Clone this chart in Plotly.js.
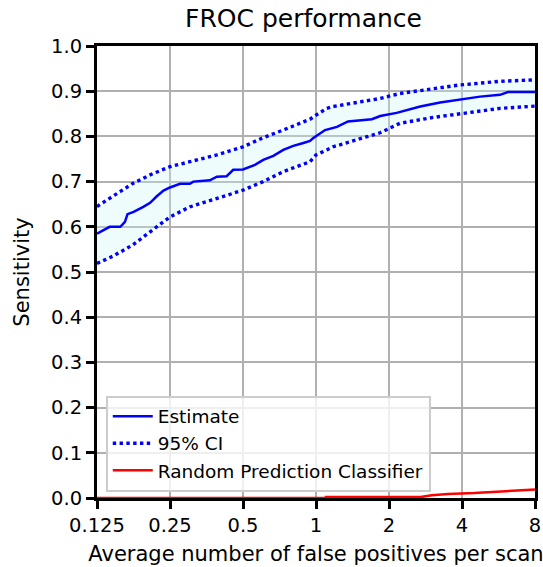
<!DOCTYPE html>
<html><head><meta charset="utf-8">
<script src="https://cdn.plot.ly/plotly-3.0.1.min.js"></script>
<style>body{margin:0;padding:0;background:#fff}#chart{width:543px;height:567px}</style>
</head><body><div id="chart"></div>
<script>
const estX = [0.125,0.133,0.141,0.156,0.163,0.167,0.177,0.194,0.207,0.220,0.235,0.25,0.275,0.302,0.312,0.365,0.39,0.428,0.456,0.5,0.56,0.606,0.667,0.733,0.806,0.88,0.945,0.972,1.09,1.22,1.355,1.7,1.84,2.15,2.44,2.69,3.25,3.93,4.75,5.74,6.19,8];
const estY = [0.585,0.593,0.600,0.600,0.611,0.628,0.633,0.644,0.653,0.667,0.680,0.687,0.695,0.695,0.700,0.703,0.711,0.712,0.726,0.727,0.737,0.748,0.757,0.770,0.779,0.785,0.790,0.796,0.814,0.821,0.833,0.838,0.845,0.852,0.860,0.866,0.875,0.881,0.888,0.892,0.898,0.898];
const ciX = [0.125,0.1455,0.1757,0.207,0.25,0.302,0.39,0.5,0.605,0.732,0.945,1.0,1.107,1.176,1.38,1.62,1.837,2.22,3.04,3.93,4.18,5.06,5.74,8];
const ciUpper = [0.645,0.667,0.696,0.715,0.733,0.744,0.759,0.777,0.797,0.814,0.838,0.847,0.862,0.866,0.872,0.879,0.884,0.895,0.906,0.914,0.915,0.920,0.922,0.925];
const ciLower = [0.519,0.535,0.560,0.589,0.622,0.644,0.663,0.681,0.700,0.722,0.744,0.759,0.770,0.777,0.788,0.799,0.808,0.829,0.842,0.850,0.852,0.858,0.862,0.867];
const randX = [0.125,1.1,1.1,2.7,3.0,3.5,4.5,6,8];
const randY = [0,0,0.002,0.002,0.006,0.009,0.011,0.015,0.019];
const xTicks = [0.125,0.25,0.5,1,2,4,8];
const xTickText = ['0.125','0.25','0.5','1','2','4','8'];
const yTicks = [0,0.1,0.2,0.3,0.4,0.5,0.6,0.7,0.8,0.9,1.0];

const traces = [
  {x: ciX, y: ciLower, mode:'lines', line:{color:'rgba(0,0,0,0)', width:0}, showlegend:false, hoverinfo:'skip'},
  {x: ciX, y: ciUpper, mode:'lines', line:{color:'rgba(0,0,0,0)', width:0}, fill:'tonexty', fillcolor:'rgba(200,245,245,0.3)', showlegend:false, hoverinfo:'skip'},
  {x: estX, y: estY, mode:'lines', name:'Estimate', line:{color:'#0000ff', width:2.5}},
  {x: ciX, y: ciUpper, mode:'lines', name:'95% CI', line:{color:'#0000ff', width:3.4, dash:'dot'}},
  {x: ciX, y: ciLower, mode:'lines', name:'95% CI', showlegend:false, line:{color:'#0000ff', width:3.4, dash:'dot'}},
  {x: randX, y: randY, mode:'lines', name:'Random Prediction Classifier', line:{color:'#ff0000', width:2.5}}
];
const layout = {
  width:543, height:567,
  margin:{l:97, r:8, t:46, b:69},
  paper_bgcolor:'#fff', plot_bgcolor:'#fff',
  font: {family:'DejaVu Sans', size:19, color:'#000'},
  title:{text:'FROC performance', font:{family:'DejaVu Sans', size:25, color:'#000'}, x:0.559, xanchor:'center', y:0.968, yanchor:'middle'},
  xaxis:{type:'log', range:[Math.log10(0.125), Math.log10(8)], tickvals:xTicks, ticktext:xTickText,
    showgrid:true, gridcolor:'#b0b0b0', gridwidth:2, showline:true, linecolor:'#000', linewidth:3, mirror:true,
    ticks:'outside', ticklen:8, tickwidth:3, tickcolor:'#000', zeroline:false,
    tickfont:{family:'DejaVu Sans', size:19.5, color:'#000'},
    title:{text:'Average number of false positives per scan', font:{family:'DejaVu Sans', size:21, color:'#000'}, standoff:10}},
  yaxis:{range:[0,1], tickvals:yTicks, tickformat:'.1f',
    showgrid:true, gridcolor:'#b0b0b0', gridwidth:2, showline:true, linecolor:'#000', linewidth:3, mirror:true,
    ticks:'outside', ticklen:8, tickwidth:3, tickcolor:'#000', zeroline:false,
    tickfont:{family:'DejaVu Sans', size:19.5, color:'#000'},
    title:{text:'Sensitivity', font:{family:'DejaVu Sans', size:21, color:'#000'}, standoff:16}},
  legend:{x:0.02, y:0.014, xanchor:'left', yanchor:'bottom', traceorder:'normal', bgcolor:'rgba(255,255,255,0.8)', bordercolor:'#cccccc', borderwidth:2,
    font:{family:'DejaVu Sans', size:18.5, color:'#000'}, tracegroupgap:0, itemwidth:40},
  showlegend:true
};
Plotly.newPlot('chart', traces, layout, {displayModeBar:false, staticPlot:true});
</script></body></html>
